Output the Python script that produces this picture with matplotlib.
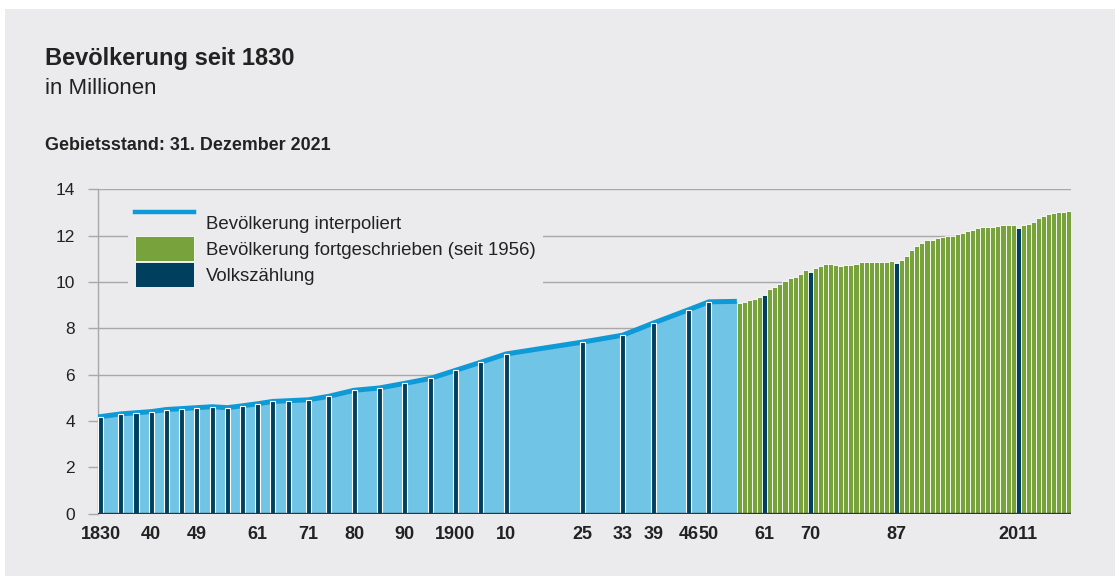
import matplotlib
matplotlib.use("Agg")
from matplotlib import pyplot as plt
from matplotlib.patches import Rectangle, Patch
from matplotlib.lines import Line2D
from matplotlib.legend_handler import HandlerLine2D

plt.rcParams['font.family'] = ['Liberation Sans', 'DejaVu Sans']

# Volkszählungen bis 1950 (Mio.)
census_years_early = [1830, 1834, 1837, 1840, 1843, 1846, 1849, 1852, 1855, 1858,
                      1861, 1864, 1867, 1871, 1875, 1880, 1885, 1890, 1895, 1900,
                      1905, 1910, 1925, 1933, 1939, 1946, 1950]
census_values_early = [4.17, 4.30, 4.35, 4.40, 4.49, 4.53, 4.57, 4.61, 4.57, 4.65,
                       4.74, 4.84, 4.87, 4.91, 5.06, 5.32, 5.42, 5.62, 5.83, 6.18,
                       6.53, 6.89, 7.40, 7.70, 8.22, 8.80, 9.14]

# interpolierte Linie: Volkszählungen + Stand 1955
interp_years = census_years_early + [1955]
interp_values = census_values_early + [9.16]

# Fortschreibung seit 1956
update_years = list(range(1956, 2022))
update_values = [9.09, 9.13, 9.20, 9.27, 9.35, 9.45, 9.68, 9.78, 9.89, 10.03,
                 10.15, 10.21, 10.32, 10.50, 10.41, 10.61, 10.70, 10.77, 10.77, 10.71,
                 10.70, 10.71, 10.73, 10.78, 10.84, 10.87, 10.88, 10.88, 10.87, 10.88,
                 10.90, 10.81, 10.96, 11.13, 11.36, 11.53, 11.70, 11.79, 11.83, 11.90,
                 11.96, 11.99, 11.99, 12.05, 12.10, 12.19, 12.26, 12.32, 12.35, 12.37,
                 12.38, 12.42, 12.44, 12.44, 12.44, 12.32, 12.44, 12.51, 12.59, 12.74,
                 12.85, 12.92, 12.98, 13.02, 13.03, 13.08]
census_years_late = [1961, 1970, 1987, 2011]

tick_years = [1830, 1840, 1849, 1861, 1871, 1880, 1890, 1900, 1910, 1925, 1933,
              1939, 1946, 1950, 1961, 1970, 1987, 2011]
tick_labels = ["1830", "40", "49", "61", "71", "80", "90", "1900", "10", "25", "33",
               "39", "46", "50", "61", "70", "87", "2011"]

bg = "#EBEBED"
c_line = "#0E9AD7"
c_fill = "#70C4E5"
c_navy = "#00405F"
c_green = "#77A23C"
c_grid = "#A8A8A8"


# Linien-Symbol in der Legende sitzt etwas oberhalb des Textes
class RaisedLine(HandlerLine2D):
    def create_artists(self, legend, orig_handle, xdescent, ydescent,
                       width, height, fontsize, trans):
        arts = super().create_artists(legend, orig_handle, xdescent, ydescent,
                                      width, height, fontsize, trans)
        for a in arts:
            a.set_ydata([y + 5.2 for y in a.get_ydata()])
        return arts


fig = plt.figure(figsize=(11.15, 5.76), dpi=100, facecolor="white")
fig.patches.append(Rectangle((5 / 1115, 0), 1, 1 - 9 / 576, transform=fig.transFigure,
                             facecolor=bg, edgecolor="none", zorder=-10))
ax = fig.add_axes([0.0879, 0.1085, 0.9605 - 0.0879, 0.6714 - 0.1085])
ax.set_facecolor(bg)

# blaue Fläche + Linie
x_line = list(interp_years)
x_line[0] -= 0.5
x_line[-1] = update_years[0] - 0.5
ax.fill_between(x_line, 0, interp_values, color=c_fill, lw=0, zorder=2)
ax.plot(x_line, interp_values, color=c_line, lw=3.6, solid_capstyle="butt", zorder=3)

# Volkszählungen bis 1950
ax.bar(census_years_early, census_values_early, width=1.0, color=c_navy,
       edgecolor="white", linewidth=0.8, zorder=4)

# Fortschreibung
colors = [c_navy if y in census_years_late else c_green for y in update_years]
ax.bar(update_years, update_values, width=1.0, color=colors,
       edgecolor="white", linewidth=0.6, zorder=4)

ax.axhline(0, color="#333333", lw=2.4, zorder=6)

ax.set_xlim(1829.5, 2021.4)
ax.set_ylim(0, 14)
ax.set_yticks(range(0, 15, 2))
ax.grid(axis="y", color=c_grid, lw=1.0, zorder=0)
ax.tick_params(axis="y", length=7.5, color=c_grid, width=1.0, labelsize=12.5,
               labelcolor="#222222", pad=9)
ax.set_xticks(tick_years)
ax.set_xticklabels(tick_labels, fontweight="bold", fontsize=13, color="#222222")
ax.tick_params(axis="x", length=0, pad=9)
for s in ["top", "right", "bottom"]:
    ax.spines[s].set_visible(False)
ax.spines["left"].set_color(c_grid)
ax.spines["left"].set_linewidth(1.0)

handles = [Line2D([0], [0], color=c_line, lw=3.2),
           Patch(facecolor=c_green, edgecolor="white", lw=0.6),
           Patch(facecolor=c_navy, edgecolor="white", lw=0.6)]
labels = ["Bevölkerung interpoliert", "Bevölkerung fortgeschrieben (seit 1956)",
          "Volkszählung"]
leg = ax.legend(handles, labels, loc="upper left", bbox_to_anchor=(0.031, 0.955),
                frameon=True, facecolor=bg, edgecolor="none", framealpha=1,
                fontsize=13.4, handlelength=3.17, handleheight=1.69,
                labelspacing=0.05, handletextpad=0.68, borderaxespad=0,
                borderpad=0.35, handler_map={Line2D: RaisedLine()})
leg.set_zorder(8)
for t in leg.get_texts():
    t.set_color("#222222")

fig.text(45 / 1115, 1 - 65 / 576, "Bevölkerung seit 1830", fontsize=17,
         fontweight="bold", color="#222222", va="baseline")
fig.text(45 / 1115, 1 - 94 / 576, "in Millionen", fontsize=16, color="#222222",
         va="baseline")
fig.text(45 / 1115, 1 - 150 / 576, "Gebietsstand: 31. Dezember 2021", fontsize=12.9,
         fontweight="bold", color="#222222", va="baseline")

plt.savefig("out.png", dpi=100, facecolor=fig.get_facecolor())
